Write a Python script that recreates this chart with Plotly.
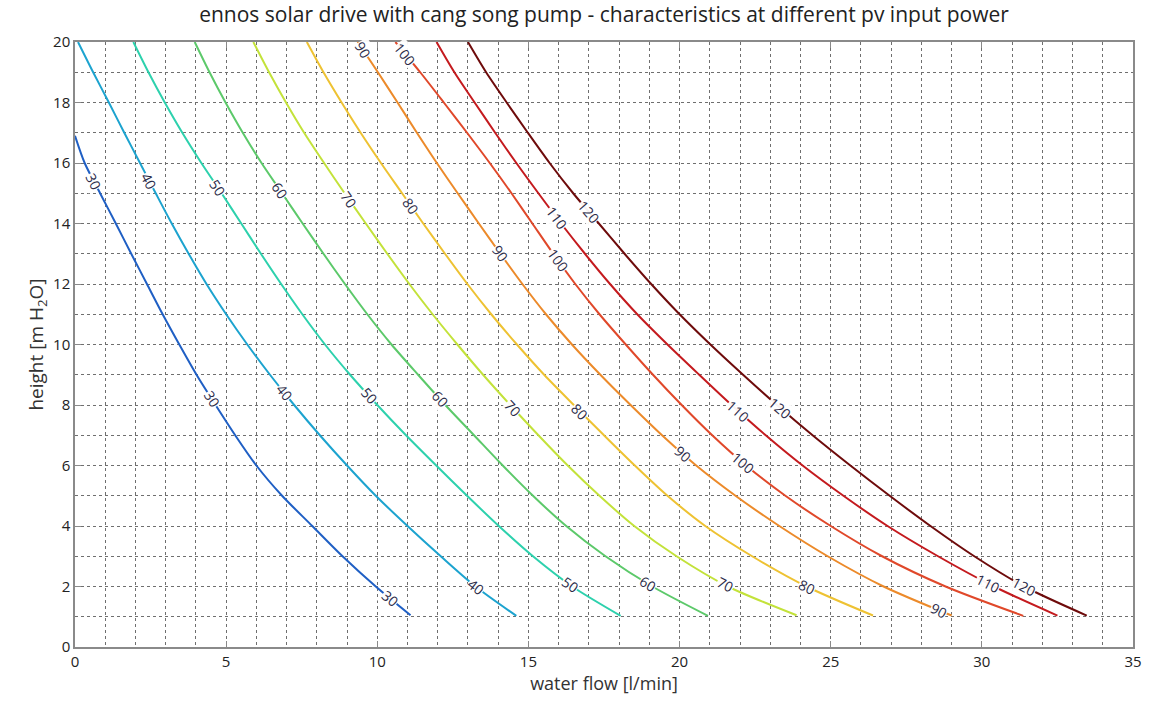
import numpy as np
import plotly.graph_objects as go

# ---------------- data ----------------
power_levels = [30, 40, 50, 60, 70, 80, 90, 100, 110, 120]

head_30 = [16.9, 16, 15, 14, 13, 12, 11, 10, 9, 8, 7, 6, 5, 4, 3, 2, 1.05]
flow_30 = [0, 0.32, 0.83, 1.35, 1.86, 2.38, 2.9, 3.45, 4.02, 4.65, 5.3, 6.0, 6.85, 7.85, 8.85, 9.95, 11.1]

head_common = [20, 19, 18, 17, 16, 15, 14, 13, 12, 11, 10, 9, 8, 7, 6, 5, 4, 3, 2]
end_head = {40: 1.03, 50: 1.03, 60: 1.03, 70: 1.05, 80: 1.04, 90: 1.04, 100: 1.03, 110: 1.04, 120: 1.04}

flow_40 = [0.1, 0.6, 1.12, 1.63, 2.15, 2.67, 3.2, 3.76, 4.35, 5.0, 5.7, 6.45, 7.25, 8.1, 9.0, 9.95, 11.0, 12.1, 13.25, 14.6]
flow_50 = [1.93, 2.43, 2.97, 3.55, 4.18, 4.85, 5.5, 6.15, 6.82, 7.52, 8.27, 9.1, 10.0, 10.95, 11.95, 12.97, 14.02, 15.15, 16.45, 18.05]
flow_60 = [3.96, 4.45, 4.98, 5.55, 6.17, 6.85, 7.53, 8.22, 8.93, 9.67, 10.47, 11.35, 12.25, 13.2, 14.15, 15.15, 16.25, 17.55, 19.1, 20.94]
flow_70 = [5.9, 6.42, 6.98, 7.58, 8.24, 8.92, 9.62, 10.33, 11.06, 11.83, 12.65, 13.5, 14.4, 15.33, 16.3, 17.35, 18.5, 19.9, 21.6, 23.87]
flow_80 = [7.67, 8.22, 8.82, 9.45, 10.12, 10.82, 11.52, 12.24, 12.98, 13.77, 14.62, 15.52, 16.5, 17.5, 18.52, 19.6, 20.85, 22.4, 24.2, 26.4]
flow_90 = [9.35, 10.02, 10.67, 11.31, 11.97, 12.66, 13.36, 14.07, 14.8, 15.58, 16.44, 17.38, 18.38, 19.42, 20.55, 21.85, 23.3, 24.9, 26.75, 29.0]
flow_100 = [10.6, 11.42, 12.2, 12.97, 13.72, 14.44, 15.13, 15.82, 16.55, 17.35, 18.22, 19.12, 20.07, 21.08, 22.2, 23.5, 25.0, 26.7, 28.8, 31.37]
flow_110 = [11.96, 12.55, 13.22, 13.9, 14.6, 15.33, 16.08, 16.87, 17.7, 18.6, 19.6, 20.65, 21.72, 22.85, 24.07, 25.42, 26.88, 28.55, 30.4, 32.5]
flow_120 = [13.0, 13.6, 14.28, 14.98, 15.7, 16.48, 17.33, 18.18, 19.06, 20.0, 21.02, 22.1, 23.22, 24.4, 25.65, 26.95, 28.3, 29.75, 31.4, 33.47]

# heights at which the inline contour labels sit
label_heads = {
    30: [15.4, 8.2, 1.6],
    40: [15.4, 8.4, 2.0],
    50: [15.2, 8.3, 2.05],
    60: [15.1, 8.2, 2.1],
    70: [14.8, 7.9, 2.05],
    80: [14.6, 7.8, 2.0],
    90: [19.75, 13.0, 6.4, 1.22],
    100: [19.6, 12.8, 6.1],
    110: [14.2, 7.8, 2.1],
    120: [14.4, 7.9, 2.0],
}

x_ticks = [0, 5, 10, 15, 20, 25, 30, 35]
y_ticks = [0, 2, 4, 6, 8, 10, 12, 14, 16, 18, 20]

# ---------------- styles ----------------
colors = {
    30: "#1f5fc4", 40: "#1ca3cf", 50: "#2dd1ad", 60: "#5cc96a", 70: "#c3e23a",
    80: "#eec232", 90: "#ec8a2a", 100: "#e0482a", 110: "#c41a1e", 120: "#6e0b0b",
}

flows = {30: flow_30, 40: flow_40, 50: flow_50, 60: flow_60, 70: flow_70,
         80: flow_80, 90: flow_90, 100: flow_100, 110: flow_110, 120: flow_120}
heads = {30: head_30}
for p in power_levels[1:]:
    heads[p] = head_common + [end_head[p]]

# plot geometry (pixels per data unit) for label rotation
L, R, T, B = 75, 21, 42, 58
W, H = 1154, 705
px_x = (W - L - R) / 35.0
px_y = (H - T - B) / 20.0

FONT = "Open Sans, DejaVu Sans, sans-serif"

fig = go.Figure()
annotations = []
for p in power_levels:
    q = np.array(flows[p], dtype=float)
    h = np.array(heads[p], dtype=float)
    fig.add_trace(go.Scatter(
        x=q, y=h, mode="lines", name=f"{p} W",
        line=dict(color=colors[p], width=2, shape="spline", smoothing=0.8),
        showlegend=False, hoverinfo="x+y+name"))
    hr = h[::-1]
    qr = q[::-1]
    for lh in label_heads[p]:
        lx = float(np.interp(lh, hr, qr))
        dq = float(np.interp(lh - 0.3, hr, qr) - np.interp(lh + 0.3, hr, qr))
        ang = np.degrees(np.arctan2(0.6 * px_y, dq * px_x))
        annotations.append(dict(
            x=lx, y=lh, xref="x", yref="y", text=str(p), showarrow=False,
            textangle=float(ang), font=dict(family=FONT, size=14, color="#2a2a48"),
            bgcolor="rgba(255,255,255,0.95)", borderpad=0))

fig.update_layout(
    width=W, height=H,
    margin=dict(l=L, r=R, t=T, b=B),
    paper_bgcolor="white", plot_bgcolor="white",
    title=dict(text="ennos solar drive with cang song pump - characteristics at different pv input power",
               x=0.5, xref="paper", xanchor="center", y=0.99, yanchor="top",
               font=dict(family=FONT, size=21, color="#222")),
    annotations=annotations,
    font=dict(family=FONT, color="#333"),
)

axis_common = dict(
    showline=True, linecolor="#8a8a8a", linewidth=1.5, mirror="ticks",
    ticks="inside", ticklen=6, tickcolor="#8a8a8a", tickwidth=1,
    showgrid=True, gridcolor="#6f6f6f", griddash="dot", gridwidth=1,
    zeroline=False, tickfont=dict(family=FONT, size=15, color="#222"),
)

fig.update_xaxes(
    range=[0, 35], tickvals=x_ticks, ticktext=[str(v) for v in x_ticks],
    minor=dict(dtick=1, tick0=0, showgrid=True, gridcolor="#6f6f6f", griddash="dot", gridwidth=1, ticks=""),
    title=dict(text="water flow [l/min]", font=dict(family=FONT, size=18, color="#333"), standoff=5),
    **axis_common)
fig.update_yaxes(
    range=[0, 20], tickvals=y_ticks, ticktext=[str(v) for v in y_ticks],
    minor=dict(dtick=1, tick0=0, showgrid=True, gridcolor="#6f6f6f", griddash="dot", gridwidth=1, ticks=""),
    title=dict(text="height [m H<sub>2</sub>O]", font=dict(family=FONT, size=19, color="#333"), standoff=4),
    **axis_common)

fig.write_html("out.html")
